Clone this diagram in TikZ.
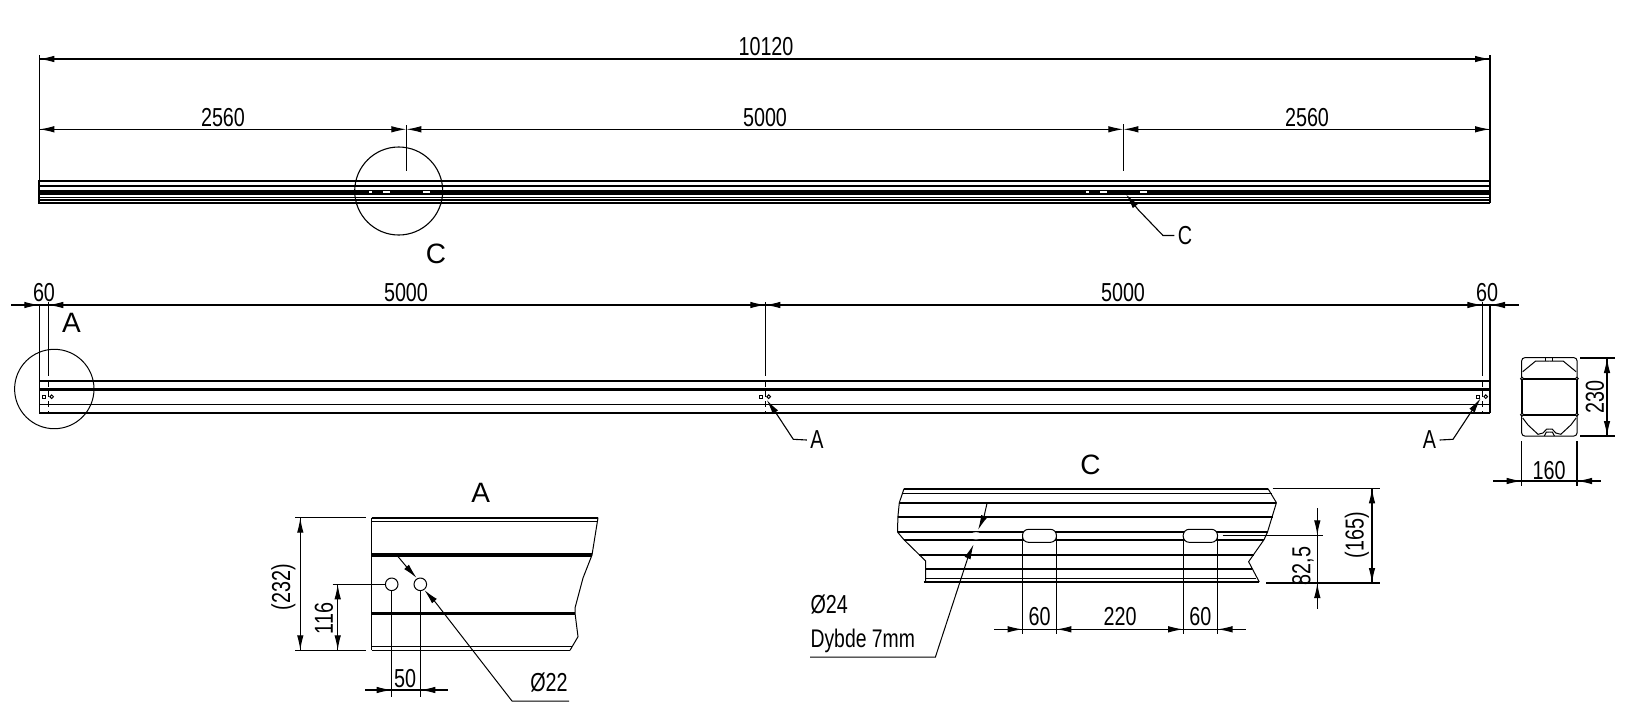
\documentclass[tikz,border=0pt]{standalone}
\usepackage{fontspec}
\setmainfont{Liberation Sans}
\newfontfamily\narrowfont[FakeStretch=0.76]{Liberation Sans}
\usetikzlibrary{arrows.meta}
\tikzset{
    drawing/.style={x=1pt,y=-1pt,line width=1.1pt},
    heavy/.style={line width=3.4pt},
    medium/.style={line width=2.3pt},
    fine/.style={line width=1pt},
    dimtip/.style={line width=1.1pt,-{Latex[length=15pt,width=6.5pt]}},
    dimtext/.style={inner sep=0pt,font=\narrowfont\fontsize{26}{30}\selectfont},
    viewtext/.style={inner sep=0pt,font=\fontsize{28}{32}\selectfont},
    centreline/.style={line width=1.1pt,dash pattern=on 6pt off 4pt}
}
\begin{document}
\begin{tikzpicture}[drawing]
    \path[use as bounding box,fill=white] (0,0) rectangle (1628,713);
    % top view
    \foreach \y/\w in {181/2,186/2,192.3/4.6,197.5/1.2,200/1.2,202.8/1.8}{
        \draw[line width=\w pt] (39.3,\y) -- (1490,\y);
    }
    \draw[medium] (39.3,180) -- (39.3,203.7);
    \foreach \x/\w in {370.7/3,386.7/7,426.7/7,1087.3/3,1103.3/7,1143.3/7}{
        \fill[white] (\x-\w/2,190.8) rectangle (\x+\w/2,192.8);
    }
    \draw (39.3,55) -- (39.3,180) (1490,55) -- (1490,203);
    \draw (39.3,59) -- (1490,59) (39.3,129.3) -- (392,129.3) (420,129.3) -- (1109,129.3) (1137,129.3) -- (1490,129.3);
    \draw (406.3,125) -- (406.3,170.7) (1123.3,124) -- (1123.3,170.7);
    \foreach \a/\b/\y in {54/39.3/59,1475/1490/59,54/39.3/129.3,1475/1490/129.3,392/406.3/129.3,420/406.3/129.3,1109/1123.3/129.3,1137/1123.3/129.3}{
        \draw[dimtip] (\a,\y) -- (\b,\y);
    }
    \draw (398.7,191) circle[radius=44];
    \node[dimtext] (lbltotal) at (766,46.5) {10120};
    \node[dimtext] (lblleft) at (223,117.5) {2560};
    \node[dimtext] (lblmid) at (765,117.5) {5000};
    \node[dimtext] (lblright) at (1307,117.5) {2560};
    \node[viewtext] (lblcircc) at (436,254) {C};
    \node[dimtext] (lblleadc) at (1185,235.5) {C};
    \draw[dimtip] (1138,209.5) -- (1126,194.3);
    \draw (lblleadc.west) ++(-3,0) -- (1163,235.5) -- (1138,209.5);
    % side view
    \foreach \y/\w in {380.7/medium,389.5/medium,404.3/fine,413/medium}{
        \draw[\w] (39.3,\y) -- (1490,\y);
    }
    \draw[medium] (1490,380.7) -- (1490,413);
    \draw[fine] (39.3,305) -- (39.3,413);
    \draw (1490,305) -- (1490,381);
    \draw (11,305) -- (1519,305);
    \foreach \x in {48.3,765.3,1482.3}{
        \draw (\x,302) -- (\x,376);
        \draw[centreline] (\x,381) -- (\x,413);
    }
    \foreach \a/\b in {25/39.3,62/48.3,750/765.3,780/765.3,1468/1482.3,1505/1490}{
        \draw[dimtip] (\a,305) -- (\b,305);
    }
    \foreach \x in {44.3,761.3,1478.3}{
        \draw[fine] (\x-1.5,395.2) rectangle (\x+1.5,398.2);
        \draw[fine] (\x+7.4,396.7) circle[radius=1.8];
    }
    \draw[fine] (54.3,389) circle[radius=39.7];
    \node[dimtext] (lblsleft) at (44,293) {60};
    \node[dimtext] (lblsmid) at (406,293) {5000};
    \node[dimtext] (lblsrest) at (1123,293) {5000};
    \node[dimtext] (lblsright) at (1487,293) {60};
    \node[viewtext] (lblcirca) at (71.5,323) {A};
    \node[dimtext] (lblleada) at (817,440) {A};
    \node[dimtext] (lblleadb) at (1429.5,440) {A};
    \draw[dimtip] (776,413) -- (766.7,400);
    \draw (lblleada.west) ++(-3,0) -- (793.3,439.3) -- (776,413);
    \draw[dimtip] (1471,412) -- (1480.7,398.3);
    \draw (lblleadb.east) ++(3,0) -- (1453,439.3) -- (1471,412);
    % end section
    \draw[fine,rounded corners=3pt] (1521.7,357.7) rectangle (1577,436);
    \foreach \s in {1,-1}{
        \begin{scope}[shift={(1549.4,0)},x=\s pt]
            \draw[fine] (0,361) -- (-13.7,361) -- (-26.7,371.7);
            \draw[fine] (-26.7,418) -- (-21.4,425) -- (-11.4,434.3) -- (-6.4,433) -- (-2.7,429) -- (0,429);
            \draw[fine] (-5,436) -- (-3,432) -- (0,432);
            \draw[fine] (-3.5,358) -- (-3.5,361);
            \draw[medium] (-27.4,378.7) -- (-27.4,414.7) (-27.4,378.7) -- (0,378.7) (-27.4,414.7) -- (0,414.7);
            \draw[fine,fill=white] (-27.4,378.7) circle[radius=1.5] (-27.4,414.7) circle[radius=1.5];
        \end{scope}
    }
    \draw (1580,358) -- (1615,358) (1580,436) -- (1615,436);
    \draw (1607,358) -- (1607,436);
    \draw[dimtip] (1607,373) -- (1607,358);
    \draw[dimtip] (1607,421) -- (1607,436);
    \draw (1521.7,441) -- (1521.7,486) (1577,441) -- (1577,486);
    \draw (1493,481) -- (1601,481);
    \draw[dimtip] (1507,481) -- (1521.7,481);
    \draw[dimtip] (1591,481) -- (1577,481);
    \node[dimtext,rotate=90] (lblheight) at (1595,397) {230};
    \node[dimtext] (lblwidth) at (1549,471) {160};
    % detail A
    \foreach \y/\e/\w in {517.7/598/medium,521.3/597/fine,555/592/heavy,613.7/575/heavy,646.7/572/fine,650.3/570/fine}{
        \draw[\w] (371.7,\y) -- (\e,\y);
    }
    \draw[fine] (371.7,517.7) -- (371.7,650.3);
    \draw[fine] (598,517.7) -- (592,555) -- (583,578) -- (579,593) -- (575,608) -- (575,613) -- (578,636.7) -- (570,650.3);
    \foreach \x in {391.7,420.3}{
        \draw[fine,fill=white] (\x,584.3) circle[radius=6.3];
        \draw (\x,590.6) -- (\x,697);
    }
    \draw (295,517.7) -- (366,517.7) (295,650.3) -- (366,650.3) (332.7,584.3) -- (385.4,584.3);
    \draw (300.3,517.7) -- (300.3,650.3) (337.7,584.3) -- (337.7,650.3);
    \foreach \x/\a/\b in {300.3/532.7/517.7,300.3/635.3/650.3,337.7/599/584.3,337.7/635.3/650.3}{
        \draw[dimtip] (\x,\a) -- (\x,\b);
    }
    \draw (365,690) -- (448,690);
    \draw[dimtip] (377,690) -- (391.7,690);
    \draw[dimtip] (434.5,690) -- (420.3,690);
    \draw[fine] (396.7,555) -- (406.7,567);
    \draw[dimtip] (406.7,567) -- (416.7,578);
    \draw[dimtip] (435,601.7) -- (424.3,590);
    \draw[fine] (435,601.7) -- (512,701) -- (569,701);
    \node[viewtext] (lbltitlea) at (480.7,492.5) {A};
    \node[dimtext,rotate=90] (lbldepth) at (283.5,587.3) {(232)};
    \node[dimtext,rotate=90] (lblhole) at (324,618.3) {116};
    \node[dimtext] (lblpitch) at (405,679) {50};
    \node[dimtext] (lbldia) at (549,683) {Ø22};
    % detail C
    \foreach \y/\a/\b/\w in {488.7/904/1268/medium,493.3/902/1271.8/fine,502.7/899.3/1276.4/medium,516.7/897.9/1272.9/medium,532/897.5/1267.5/medium,539.7/903.9/1264/medium,554.7/919/1254/medium,568.7/925.7/1252/medium,578.7/925.7/1256/fine,582/923.6/1259.3/medium}{
        \draw[\w] (\a,\y) -- (\b,\y);
    }
    \draw[fine] (904,488.7) -- (899.3,502.7) -- (897.9,516.7) -- (897.5,532) -- (903.9,539.7) -- (925.7,561) -- (925.7,582);
    \draw[fine] (1268,488.7) -- (1276.4,502.7) -- (1267.5,532) -- (1264,539.7) -- (1248.6,561.7) -- (1259.3,582);
    \foreach \x in {1022.5,1056.4,1183.2,1217.5}{
        \draw (\x,536) -- (\x,634);
    }
    \foreach \x/\e in {1022.5/1056.4,1183.2/1217.5}{
        \draw[fine,fill=white,rounded corners=6pt] (\x,529.3) rectangle (\e,542.3);
    }
    \fill[white] (976,535.8) ellipse[x radius=6,y radius=3.6];
    \draw (994,629.3) -- (1246,629.3);
    \foreach \a/\b in {1007.5/1022.5,1071.8/1056.4,1168.2/1183.2,1232.5/1217.5}{
        \draw[dimtip] (\a,629.3) -- (\b,629.3);
    }
    \draw (1222.7,535.3) -- (1322.7,535.3) (1266,583) -- (1380,583) (1272.7,488.3) -- (1380,488.3);
    \draw (1317.3,508.3) -- (1317.3,609) (1372,488.3) -- (1372,583);
    \draw[dimtip] (1317.3,520.7) -- (1317.3,535.3);
    \draw[dimtip] (1317.3,597.5) -- (1317.3,583);
    \draw[dimtip] (1372,503) -- (1372,488.3);
    \draw[dimtip] (1372,568.5) -- (1372,583);
    \draw[fine] (987,503.3) -- (984,516.7);
    \draw[dimtip] (984,516.7) -- (978,530);
    \draw[dimtip] (968.2,556.7) -- (973.6,544.3);
    \draw[fine] (968.2,556.7) -- (935.4,657) -- (810,657);
    \node[viewtext] (lbltitlec) at (1090.5,465) {C};
    \node[dimtext] (lblslota) at (1039.6,616.5) {60};
    \node[dimtext] (lblspan) at (1120,616.5) {220};
    \node[dimtext] (lblslotb) at (1200.4,616.5) {60};
    \node[dimtext,rotate=90] (lblmidh) at (1303,566) {82,5};
    \node[dimtext,rotate=90] (lbltoth) at (1357,535) {(165)};
    \node[dimtext,anchor=west] (lblbore) at (810,605) {Ø24};
    \node[dimtext,anchor=west,font=\narrowfont\fontsize{25.5}{30}\selectfont] (lbldepthc) at (810,641) {Dybde 7mm};
\end{tikzpicture}
\end{document}
